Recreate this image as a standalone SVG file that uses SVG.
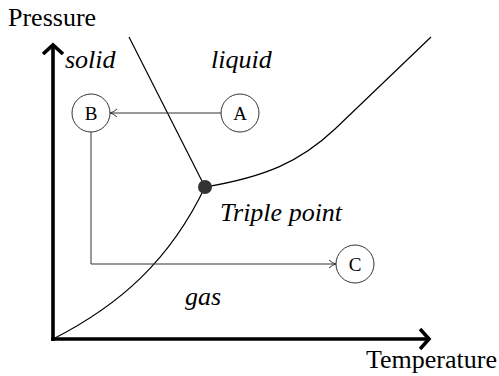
<svg xmlns="http://www.w3.org/2000/svg" width="499" height="376" viewBox="0 0 499 376">
<defs>
<style>
text{font-family:"Liberation Serif","Times New Roman",serif;fill:#000}
.lbl{font-size:26px}
.it{font-size:26px;font-style:italic}
.node circle{fill:#fff;stroke:#333;stroke-width:1}
.node text{font-size:19px;text-anchor:middle}
.conn{fill:none;stroke:#333;stroke-width:1}
.curve{fill:none;stroke:#000;stroke-width:1.2}
.axis{fill:none;stroke:#000;stroke-width:3.6}
</style>
<marker id="ah" markerWidth="10" markerHeight="10" refX="8" refY="5" orient="auto" markerUnits="userSpaceOnUse">
<path d="M1,1 Q4,4 8,5 Q4,6 1,9" fill="none" stroke="#333" stroke-width="1"/>
</marker>
<marker id="axh" markerWidth="14" markerHeight="24" refX="10" refY="12" orient="auto" markerUnits="userSpaceOnUse">
<path d="M1,2 L10,12 L1,22" fill="none" stroke="#000" stroke-width="3.6" stroke-linejoin="miter"/>
</marker>
</defs>
<g id="axes">
<path class="axis" d="M53,341 L53,45" marker-end="url(#axh)"/>
<path class="axis" d="M51,339 L429,339" marker-end="url(#axh)"/>
</g>
<g id="curves">
<path class="curve" d="M129,37 L205,187"/>
<path class="curve" d="M53,339 C120,305 170,260 205,187"/>
<path class="curve" d="M205,187 C265,177 300,162 335,129 L431,37"/>
</g>
<g id="triple"><circle cx="205" cy="187" r="7" fill="#333"/></g>
<g id="connectors">
<path class="conn" d="M221,113 L110,113" marker-end="url(#ah)"/>
<path class="conn" d="M91,131 L91,264 L336,264" marker-end="url(#ah)"/>
</g>
<g id="A" class="node"><circle cx="240" cy="113" r="19"/><text x="240" y="119.5">A</text></g>
<g id="B" class="node"><circle cx="91" cy="113" r="19"/><text x="91" y="119.5">B</text></g>
<g id="C" class="node"><circle cx="355" cy="264" r="19"/><text x="355" y="270.5">C</text></g>
<g id="labels">
<text class="lbl" x="8" y="26">Pressure</text>
<text class="it" x="65" y="68">solid</text>
<text class="it" x="211" y="68">liquid</text>
<text class="it" x="220" y="221">Triple point</text>
<text class="it" x="185" y="305">gas</text>
<text class="lbl" x="366" y="368">Temperature</text>
</g>
</svg>
